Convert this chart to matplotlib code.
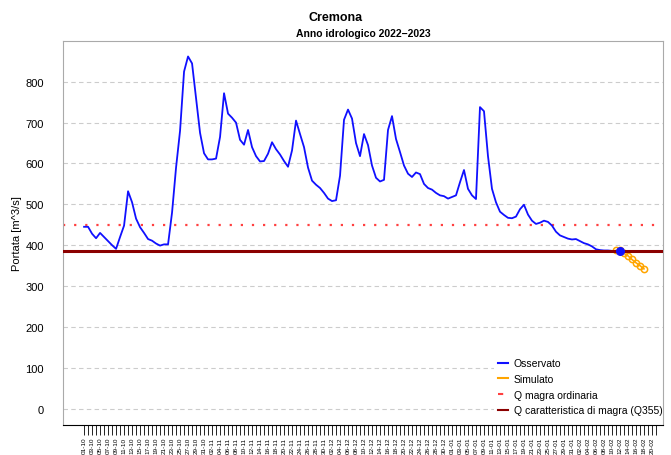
""" Cremona - portata osservata e simulata, anno idrologico 2022-2023
"""

import numpy as np
import pandas as pd
import matplotlib
matplotlib.use('Agg')
import matplotlib.pyplot as plt
from matplotlib.lines import Line2D

plt.rcParams['font.family'] = ['Liberation Sans', 'DejaVu Sans']

# daily observed discharge from 01-10-2022 [m^3/s]
obs_start = '2022-10-01'
observed = [
    445, 445, 428, 417, 430, 420, 410, 400, 391, 420,
    448, 532, 505, 465, 444, 430, 415, 411, 404, 399,
    402, 402, 480, 590, 680, 825, 862, 845, 760, 675,
    625, 610, 610, 612, 665, 772, 722, 712, 700, 658,
    646, 682, 640, 618, 605, 606, 624, 652, 635, 622,
    606, 592, 632, 705, 672, 640, 590, 558, 548, 540,
    528, 514, 508, 510, 570, 707, 732, 710, 650, 618,
    672, 645, 595, 565, 556, 560, 682, 716, 660, 628,
    595, 575, 567, 578, 574, 550, 540, 536, 528, 522,
    520, 514, 518, 522, 554, 584, 538, 522, 513, 738,
    728, 618, 538, 505, 482, 474, 467, 466, 470, 488,
    499, 475, 460, 452, 455, 460, 457, 448, 433, 424,
    420, 416, 414, 415, 410, 405, 402, 397, 390, 388,
    387, 387, 386, 386, 386,
]

# simulated discharge
sim_start = '2023-02-11'
simulated = [387, 387, 380, 374, 365, 357, 350, 342]

q_magra_ordinaria = 450
q355 = 386

obs_dates = pd.date_range(obs_start, periods=len(observed), freq='D')
sim_dates = pd.date_range(sim_start, periods=len(simulated), freq='D')

fig, ax = plt.subplots(figsize=(6.71, 4.56), dpi=100)
fig.subplots_adjust(left=0.094, right=0.988, top=0.908, bottom=0.066)

blue = '#1010ff'
ax.axhline(q_magra_ordinaria, color='#ff4040', linestyle=(0, (1, 4)), lw=1.6, zorder=2)
ax.plot(sim_dates, simulated, color='orange', lw=1.2, marker='o', ms=4.5,
        mfc='none', mec='orange', mew=1.1, zorder=3)
ax.plot(obs_dates, observed, color=blue, lw=1.3, zorder=3)
ax.axhline(q355, color='#8b0000', lw=2.2, zorder=4)
ax.plot(obs_dates[-1], observed[-1], 'o', color=blue, ms=5.5, zorder=5)

# axes
ax.set_ylim(-40, 900)
ax.set_yticks(np.arange(0, 801, 100))
ax.grid(axis='y', color='#cccccc', linestyle=(0, (4, 3)), lw=0.8)
ax.set_axisbelow(True)
ax.tick_params(axis='y', length=0, labelsize=8, pad=14)
ax.set_ylabel('Portata [m^3/s]', fontsize=8, labelpad=2)

x0 = pd.Timestamp(obs_start)
ax.set_xlim(x0 - pd.Timedelta(hours=126), x0 + pd.Timedelta(hours=3474))
tick_days = pd.date_range(obs_start, '2023-02-21', freq='D')
ax.set_xticks(tick_days)
ax.set_xticklabels([d.strftime('%d-%m') if i % 2 == 0 else ''
                    for i, d in enumerate(tick_days)],
                   rotation=90, fontsize=4.6)
ax.tick_params(axis='x', length=7, width=0.6, pad=1.5)

for side in ['left', 'right', 'top']:
    ax.spines[side].set_color('#aaaaaa')
ax.spines['bottom'].set_color('black')

handles = [
    Line2D([], [], color=blue, lw=1.5),
    Line2D([], [], color='orange', lw=1.5),
    Line2D([], [], color='#ff4040', lw=1.5, linestyle=(0, (2.5, 6))),
    Line2D([], [], color='#8b0000', lw=1.5),
]
labels = ['Osservato', 'Simulato', 'Q magra ordinaria',
          'Q caratteristica di magra (Q355)']
leg = ax.legend(handles, labels, loc='lower right', fontsize=7.5, handlelength=1.0,
                handletextpad=0.5, labelspacing=0.55, frameon=True, framealpha=1,
                edgecolor='none', borderaxespad=0.0, bbox_to_anchor=(1.006, 0.014))
leg.set_zorder(2.2)

fig.suptitle('Cremona', fontsize=9, fontweight='bold', y=0.974)
ax.set_title('Anno idrologico 2022\u22122023', fontsize=7.5, fontweight='bold', pad=3.5)

plt.savefig('out.png')
